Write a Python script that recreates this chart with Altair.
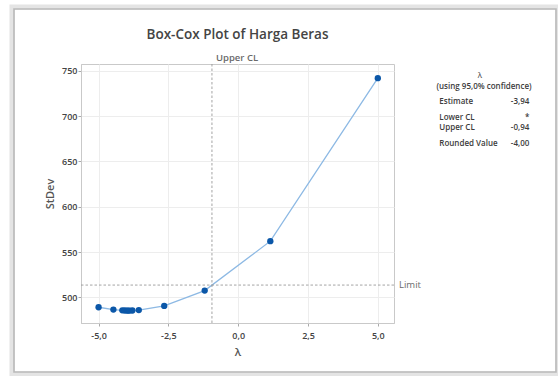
import altair as alt
import pandas as pd

# Box-Cox search points: lambda vs. pooled standard deviation
lam = [-5.0, -4.47, -4.15, -4.06, -3.98, -3.94, -3.88, -3.79, -3.56, -2.65, -1.20, 1.15, 5.0]
stdev = [489.0, 486.4, 485.6, 485.4, 485.3, 485.3, 485.3, 485.4, 485.9, 490.5, 507.4, 562.0, 742.0]

upper_cl = -0.94
limit = 513.5

x_ticks = [-5.0, -2.5, 0.0, 2.5, 5.0]
y_ticks = [500, 550, 600, 650, 700, 750]

summary_labels = ["Estimate", "Lower CL", "Upper CL", "Rounded Value"]
summary_values = ["-3,94", "*", "-0,94", "-4,00"]

W, H = 313, 259
FONT = "Open Sans"
TXT = "#3c3c3c"

df = pd.DataFrame({"lam": lam, "stdev": stdev})
one = pd.DataFrame({"k": [0]})

xs = alt.Scale(domain=[-5.63, 5.58], nice=False, zero=False)
ys = alt.Scale(domain=[471.6, 757.7], nice=False, zero=False)

x_axis = alt.Axis(
    values=x_ticks, title="λ",
    labelExpr="replace(replace(format(datum.value, '.1f'), '.', ','), '−', '-')",
)
y_axis = alt.Axis(values=y_ticks, title="StDev", format="d")

# window-style panel around the graph
frame_shadow = alt.Chart(one).mark_rect(
    fillOpacity=0, stroke="#e4e4e4", strokeWidth=5
).encode(x=alt.value(-69), x2=alt.value(477), y=alt.value(-57), y2=alt.value(310))
frame = alt.Chart(one).mark_rect(
    fillOpacity=0, stroke="#b9b9b9", strokeWidth=1.6
).encode(x=alt.value(-67), x2=alt.value(475), y=alt.value(-55), y2=alt.value(308))

line = alt.Chart(df).mark_line(
    interpolate="linear", color="#8db9e4", strokeWidth=1.3
).encode(
    x=alt.X("lam:Q", scale=xs, axis=x_axis),
    y=alt.Y("stdev:Q", scale=ys, axis=y_axis),
)
points = alt.Chart(df).mark_circle(size=40, color="#0b57a8", opacity=1).encode(
    x=alt.X("lam:Q", scale=xs),
    y=alt.Y("stdev:Q", scale=ys),
)

ucl_rule = alt.Chart(one).mark_rule(
    strokeDash=[2.5, 2], color="#9a9a9a", strokeWidth=0.9
).encode(x=alt.datum(upper_cl, scale=xs))
limit_rule = alt.Chart(one).mark_rule(
    strokeDash=[2.5, 2], color="#9a9a9a", strokeWidth=0.9
).encode(y=alt.datum(limit, scale=ys))

ucl_text = alt.Chart(one).mark_text(
    align="left", baseline="alphabetic", dx=4, font=FONT, fontSize=9.5,
    fontWeight=600, color="#6a6a6a"
).encode(x=alt.datum(upper_cl, scale=xs), y=alt.value(-3), text=alt.value("Upper CL"))
limit_text = alt.Chart(one).mark_text(
    align="left", baseline="middle", font=FONT, fontSize=9.5, color="#6a6a6a"
).encode(x=alt.value(W + 5), y=alt.datum(limit, scale=ys), text=alt.value("Limit"))

title = alt.Chart(one).mark_text(
    align="center", baseline="alphabetic", font=FONT, fontSize=13.5,
    fontWeight=600, color="#444444"
).encode(x=alt.value(W / 2), y=alt.value(-25), text=alt.value("Box-Cox Plot of Harga Beras"))

# summary panel on the right
panel = [
    alt.Chart(one).mark_text(align="center", baseline="middle", font=FONT,
                             fontSize=8, color=TXT)
    .encode(x=alt.value(399), y=alt.value(11.7), text=alt.value("λ")),
    alt.Chart(one).mark_text(align="center", baseline="middle", font=FONT,
                             fontSize=8, fontWeight=600, color=TXT)
    .encode(x=alt.value(403), y=alt.value(23.3), text=alt.value("(using 95,0% confidence)")),
]
row_y = [37.7, 54.0, 64.3, 80.0]
for lab, val, yy in zip(summary_labels, summary_values, row_y):
    panel.append(
        alt.Chart(one).mark_text(align="left", baseline="middle", font=FONT,
                                 fontSize=8, fontWeight=600, color=TXT)
        .encode(x=alt.value(358.3), y=alt.value(yy), text=alt.value(lab))
    )
    panel.append(
        alt.Chart(one).mark_text(align="right", baseline="middle", font=FONT,
                                 fontSize=8, fontWeight=600, color=TXT)
        .encode(x=alt.value(448.3), y=alt.value(yy), text=alt.value(val))
    )

chart = alt.layer(
    frame_shadow, frame, line, ucl_rule, limit_rule, points,
    ucl_text, limit_text, title, *panel
).properties(
    width=W, height=H,
    autosize=alt.AutoSizeParams(type="none"),
    padding={"left": 81, "top": 64, "right": 164, "bottom": 53},
    background="white",
).configure_view(
    stroke="#c9c9c9", strokeWidth=1
).configure_axis(
    labelFont=FONT, labelFontSize=9, labelFontWeight=600, labelColor="#444444",
    titleFont=FONT, titleFontSize=11, titleFontWeight=600, titleColor="#555555",
    gridColor="#ededed", gridWidth=1,
    domainColor="#c9c9c9", tickColor="#aaaaaa", tickSize=3,
).configure_axisX(
    labelPadding=5, titlePadding=6,
).configure_axisY(
    labelPadding=1, titlePadding=6,
)

chart.save("out.html", embed_options={"renderer": "svg", "actions": False})
